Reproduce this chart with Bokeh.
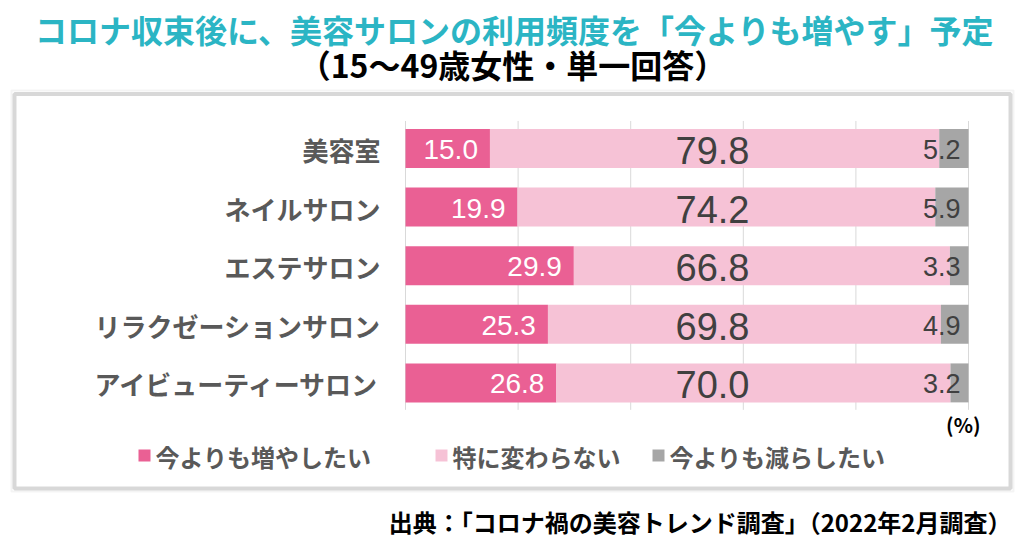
from bokeh.plotting import figure
from bokeh.models import Range1d, ColumnDataSource, Label, BoxAnnotation
from bokeh.core.properties import value
from bokeh.embed import file_html
from bokeh.resources import INLINE
import numpy as np

# ---- data ----
categories = ["美容室", "ネイルサロン", "エステサロン", "リラクゼーションサロン", "アイビューティーサロン"]
increase = [15.0, 19.9, 29.9, 25.3, 26.8]
same = [79.8, 74.2, 66.8, 69.8, 70.0]
decrease = [5.2, 5.9, 3.3, 4.9, 3.2]
series_names = ["今よりも増やしたい", "特に変わらない", "今よりも減らしたい"]
x_ticks = [0, 20, 40, 60, 80, 100]
title_text = "コロナ収束後に、美容サロンの利用頻度を「今よりも増やす」予定"
subtitle_text = "（15～49歳女性・単一回答）"
source_text = "出典：「コロナ禍の美容トレンド調査」（2022年2月調査）"
unit_text = "(%)"

# ---- style ----
C_INC = "#ea6094"
C_SAME = "#f6c2d6"
C_DEC = "#a6a6a6"
C_TEAL = "#2bb5c4"
C_LABEL = "#595959"
C_VAL = "#404040"
JP = "Noto Sans CJK JP"
NUM = "Liberation Sans, Arial, sans-serif"

W, H = 1024, 538
OFF = 0
# layout constants (page pixel coordinates)
X0PX, X100PX = 405, 968
SCALE = (X100PX - X0PX) / 100.0
ROW0, ROWH = 148, 58.6

def sx(px):
    return px - OFF

def sy(py):
    return (OFF + H) - py

x_start = (OFF - X0PX) / SCALE
x_end = (OFF + W - X0PX) / SCALE
y_top = (OFF - ROW0) / ROWH
y_bot = (OFF + H - ROW0) / ROWH

p = figure(width=W, height=H, x_range=Range1d(x_start, x_end), y_range=Range1d(y_bot, y_top),
           min_border=0, toolbar_location=None, output_backend="svg",
           x_axis_location=None, y_axis_location=None, title=None,
           outline_line_color=None)
p.grid.visible = False
p.background_fill_color = "white"
p.border_fill_color = "white"

idx = np.arange(len(categories))
inc = np.array(increase)
sam = np.array(same)
dec = np.array(decrease)
src = ColumnDataSource(dict(
    y=idx,
    cat=categories,
    inc_l=np.zeros_like(inc), inc_r=inc,
    same_l=inc, same_r=inc + sam,
    dec_l=inc + sam, dec_r=inc + sam + dec,
    inc_t=[f"{v:.1f}" for v in inc],
    same_t=[f"{v:.1f}" for v in sam],
    dec_t=[f"{v:.1f}" for v in dec],
    mid_x=[(712 - X0PX) / SCALE] * len(categories),
    end_x=[100.0] * len(categories),
    lab_x=[(380 - X0PX) / SCALE] * len(categories),
))

# gridlines
p.segment(x0=x_ticks, x1=x_ticks, y0=[-0.47] * len(x_ticks), y1=[4.46] * len(x_ticks),
          line_color="#d9d9d9", line_width=1)

BH = 0.665
p.hbar(y="y", left="inc_l", right="inc_r", height=BH, source=src, fill_color=C_INC, line_color=None)
p.hbar(y="y", left="same_l", right="same_r", height=BH, source=src, fill_color=C_SAME, line_color=None)
p.hbar(y="y", left="dec_l", right="dec_r", height=BH, source=src, fill_color=C_DEC, line_color=None)

# value labels
p.text(x="inc_r", y="y", text="inc_t", source=src, text_align="right", text_baseline="middle",
       x_offset=-12, y_offset=1, text_color="white", text_font=value(NUM), text_font_size="28px")
p.text(x="mid_x", y="y", text="same_t", source=src, text_align="center", text_baseline="middle",
       y_offset=2, text_color=C_VAL, text_font=value(NUM), text_font_size="38px")
p.text(x="end_x", y="y", text="dec_t", source=src, text_align="right", text_baseline="middle",
       x_offset=-8, y_offset=1, text_color=C_VAL, text_font=value(NUM), text_font_size="27px")

# category labels
p.text(x="lab_x", y="y", text="cat", source=src, text_align="right", text_baseline="middle",
       y_offset=1, text_color=C_LABEL, text_font=value(JP), text_font_style="bold",
       text_font_size="26px")

# title / subtitle
p.add_layout(Label(x=sx(514), y=sy(28), x_units="screen", y_units="screen", text=title_text,
                   text_align="center", text_baseline="middle", text_color=C_TEAL,
                   text_font=JP, text_font_style="bold", text_font_size="32px"))
p.add_layout(Label(x=sx(512), y=sy(63), x_units="screen", y_units="screen", text=subtitle_text,
                   text_align="center", text_baseline="middle", text_color="black",
                   text_font=JP, text_font_style="bold", text_font_size="32px"))

# frame box (shadow + main)
p.add_layout(BoxAnnotation(left=sx(11), right=sx(1013), top=sy(90), bottom=sy(491),
                           left_units="screen", right_units="screen", top_units="screen",
                           bottom_units="screen", fill_color=None, line_color="#d9d9d9",
                           line_width=2))
p.add_layout(BoxAnnotation(left=sx(14), right=sx(1010), top=sy(93.5), bottom=sy(488),
                           left_units="screen", right_units="screen", top_units="screen",
                           bottom_units="screen", fill_color=None, line_color="#7f7f7f",
                           line_width=4))

# unit label
p.add_layout(Label(x=sx(980), y=sy(424), x_units="screen", y_units="screen", text=unit_text,
                   text_align="right", text_baseline="middle", text_color="black",
                   text_font=JP, text_font_style="bold", text_font_size="20px"))

# legend
leg_sq_x = [138, 435, 652]
leg_colors = [C_INC, C_SAME, C_DEC]
for lx, col, name in zip(leg_sq_x, leg_colors, series_names):
    p.add_layout(BoxAnnotation(left=sx(lx), right=sx(lx + 12), top=sy(449), bottom=sy(461),
                               left_units="screen", right_units="screen", top_units="screen",
                               bottom_units="screen", fill_color=col, fill_alpha=1,
                               line_color=None))
    p.add_layout(Label(x=sx(lx + 17), y=sy(456), x_units="screen", y_units="screen", text=name,
                       text_align="left", text_baseline="middle", text_color=C_LABEL,
                       text_font=JP, text_font_style="bold", text_font_size="24px"))

# source
p.add_layout(Label(x=sx(1011), y=sy(521), x_units="screen", y_units="screen", text=source_text,
                   text_align="right", text_baseline="middle", text_color="black",
                   text_font=JP, text_font_style="bold", text_font_size="24px"))

open("out.html", "w").write(file_html(p, INLINE))
